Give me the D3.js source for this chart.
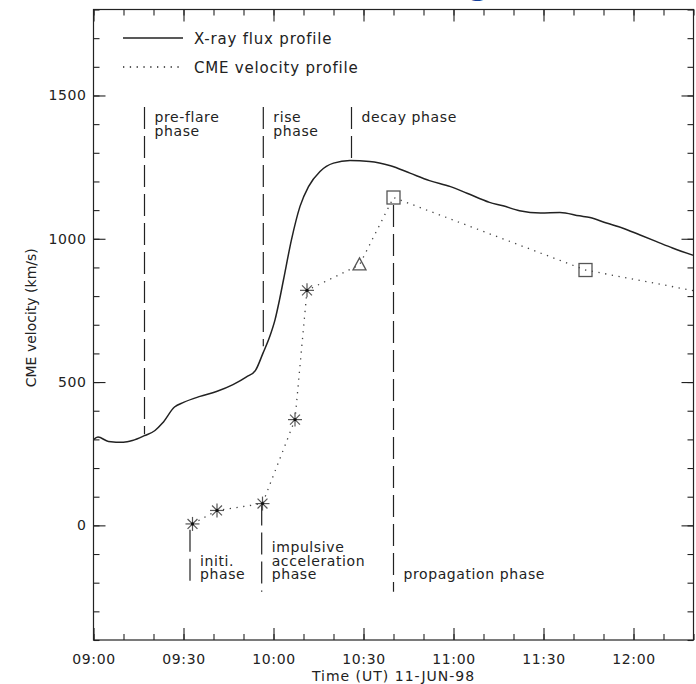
<!DOCTYPE html>
<html>
<head>
<meta charset="utf-8">
<script src="https://cdn.jsdelivr.net/npm/d3@7"></script>
<style>
  body { margin: 0; background: #fff; }
  svg text { font-family: "DejaVu Sans", sans-serif; fill: #222; }
</style>
</head>
<body>
<div id="chart"></div>
<script>
// X-ray flux profile (scaled onto velocity axis)
var fluxTimes = ['09:00:00','09:01:30','09:05:00','09:10:00','09:13:00','09:17:00','09:20:30','09:23:00',
  '09:27:00','09:30:00','09:35:30','09:41:00','09:46:30','09:51:00','09:54:00','09:56:30','09:58:45',
  '10:00:30','10:02:00','10:03:20','10:06:00','10:08:50','10:11:40','10:15:30','10:20:00','10:25:30',
  '10:32:00','10:39:00','10:45:30','10:52:00','10:59:00','11:04:30','11:12:00','11:16:30','11:22:00',
  '11:29:00','11:35:30','11:42:00','11:45:30','11:51:00','11:56:30','12:02:00','12:07:30','12:13:00','12:20:00'];
var fluxValues = [299, 308, 293, 290, 296, 313, 331, 357,
  413, 429, 450, 467, 491, 518, 541, 601, 659,
  717, 787, 857, 997, 1113, 1182, 1235, 1264, 1273,
  1270, 1255, 1229, 1203, 1182, 1159, 1127, 1115, 1098,
  1090, 1092, 1080, 1074, 1055, 1037, 1014, 991, 968, 942];

// CME velocity profile
var cmeTimes = ['09:33:00','09:41:10','09:56:20','10:07:10','10:11:10','10:28:40','10:40:00','11:44:00','12:20:00'];
var cmeValues = [5, 52, 76, 369, 820, 909, 1144, 891, 819];
var cmeSymbols = ['star','star','star','star','star','triangle','square','square','none'];

// phase boundaries
var topPhaseTimes = ['09:17:00','09:56:36','10:26:00'];
var topPhaseFrom = [1460, 1460, 1460];
var topPhaseTo = [318, 625, 1277];
var topPhaseLabels = [['pre-flare','phase'], ['rise','phase'], ['decay phase']];

var botPhaseTimes = ['09:32:10','09:56:04','10:40:00'];
var botPhaseFrom = [-15, 76, 1118];
var botPhaseTo = [-200, -232, -232];
var botPhaseLabels = [['initi.','phase'], ['impulsive','acceleration','phase'], ['propagation phase']];

var xTicks = ['09:00:00','09:30:00','10:00:00','10:30:00','11:00:00','11:30:00','12:00:00'];
var yTicks = [0, 500, 1000, 1500];
var xDomain = ['09:00:00','12:20:00'];
var yDomain = [-400, 1800];

var legendLabels = ['X-ray flux profile', 'CME velocity profile'];
var xTitle = 'Time (UT) 11-JUN-98';
var yTitle = 'CME velocity (km/s)';

var parseT = d3.timeParse('%H:%M:%S');
var W = 696, H = 684;
var margin = {top: 9.5, left: 93.5, right: 2.5, bottom: 44};
var pw = W - margin.left - margin.right;
var ph = H - margin.top - margin.bottom;

var svg = d3.select('#chart').append('svg')
  .attr('width', W).attr('height', H);

// cut-off slide title glyph at the top edge
svg.append('text')
  .attr('x', 468).attr('y', -5)
  .style('font-size', '30px').style('font-weight', 'bold')
  .style('fill', '#123f9c')
  .text('g');

var g = svg.append('g')
  .attr('transform', 'translate(' + margin.left + ',' + margin.top + ')');

var x = d3.scaleTime().domain(xDomain.map(parseT)).range([0, pw]);
var y = d3.scaleLinear().domain(yDomain).range([ph, 0]);

g.append('clipPath').attr('id', 'clip')
  .append('rect').attr('width', pw).attr('height', ph);

// axes: ticks pointing inward
function styleAxis(sel) {
  sel.select('.domain').remove();
  sel.selectAll('line').attr('stroke', '#222').attr('stroke-width', 1.1);
  sel.selectAll('text').style('font-size', '14px').style('letter-spacing', '0.6px');
}
var minorX = d3.timeMinute.every(10);
var majorX = xTicks.map(parseT);
var minorY = d3.range(yDomain[0], yDomain[1] + 1, 100);

g.append('g').attr('transform', 'translate(0,' + ph + ')')
  .call(d3.axisBottom(x).ticks(minorX).tickSize(-6).tickFormat(''))
  .call(styleAxis);
g.append('g').attr('transform', 'translate(0,' + ph + ')')
  .call(d3.axisBottom(x).tickValues(majorX).tickSize(-12).tickPadding(14).tickFormat(d3.timeFormat('%H:%M')))
  .call(styleAxis);
g.append('g')
  .call(d3.axisTop(x).ticks(minorX).tickSize(-6).tickFormat(''))
  .call(styleAxis);
g.append('g')
  .call(d3.axisTop(x).tickValues(majorX).tickSize(-12).tickFormat(''))
  .call(styleAxis);

g.append('g')
  .call(d3.axisLeft(y).tickValues(minorY).tickSize(-6).tickFormat(''))
  .call(styleAxis);
g.append('g')
  .call(d3.axisLeft(y).tickValues(yTicks).tickSize(-12).tickPadding(7).tickFormat(d3.format('d')))
  .call(styleAxis);
g.append('g').attr('transform', 'translate(' + pw + ',0)')
  .call(d3.axisRight(y).tickValues(minorY).tickSize(-6).tickFormat(''))
  .call(styleAxis);
g.append('g').attr('transform', 'translate(' + pw + ',0)')
  .call(d3.axisRight(y).tickValues(yTicks).tickSize(-12).tickFormat(''))
  .call(styleAxis);

g.append('rect')
  .attr('width', pw).attr('height', ph)
  .attr('fill', 'none').attr('stroke', '#222').attr('stroke-width', 1.2);

// axis titles
svg.append('text')
  .attr('x', margin.left + pw / 2).attr('y', 681)
  .attr('text-anchor', 'middle')
  .style('font-size', '14px').style('letter-spacing', '1px')
  .text(xTitle);
svg.append('text')
  .attr('transform', 'translate(36,' + (margin.top + ph / 2 - 7) + ') rotate(-90)')
  .attr('text-anchor', 'middle')
  .style('font-size', '14px')
  .text(yTitle);

// phase lines
function phaseLines(times, from, to, labels, baseY) {
  times.forEach(function (t, i) {
    var xp = x(parseT(t));
    g.append('line')
      .attr('x1', xp).attr('x2', xp)
      .attr('y1', y(from[i])).attr('y2', y(to[i]))
      .attr('stroke', '#222').attr('stroke-width', 1.2)
      .attr('stroke-dasharray', '22,7');
    var txt = g.append('text')
      .attr('x', xp + 10)
      .attr('y', baseY(labels[i].length))
      .style('font-size', '14px').style('letter-spacing', '0.6px');
    labels[i].forEach(function (s, k) {
      txt.append('tspan').attr('x', xp + 10).attr('dy', k === 0 ? 0 : 13.5).text(s);
    });
  });
}
phaseLines(topPhaseTimes, topPhaseFrom, topPhaseTo, topPhaseLabels, function () { return 122 - margin.top; });
phaseLines(botPhaseTimes, botPhaseFrom, botPhaseTo, botPhaseLabels, function (n) { return 579 - margin.top - (n - 1) * 13.5; });

// X-ray flux curve
var flux = fluxTimes.map(function (t, i) { return {t: parseT(t), v: fluxValues[i]}; });
g.append('path')
  .datum(flux)
  .attr('clip-path', 'url(#clip)')
  .attr('fill', 'none').attr('stroke', '#222').attr('stroke-width', 1.5)
  .attr('d', d3.line().x(function (d) { return x(d.t); }).y(function (d) { return y(d.v); })
    .curve(d3.curveMonotoneX));

// CME velocity curve
var cme = cmeTimes.map(function (t, i) { return {t: parseT(t), v: cmeValues[i], s: cmeSymbols[i]}; });
g.append('path')
  .datum(cme)
  .attr('clip-path', 'url(#clip)')
  .attr('fill', 'none').attr('stroke', '#444').attr('stroke-width', 1.3)
  .attr('stroke-dasharray', '1.3,5.5')
  .attr('d', d3.line().x(function (d) { return x(d.t); }).y(function (d) { return y(d.v); }));

var marks = g.selectAll('.mark')
  .data(cme.filter(function (d) { return d.s !== 'none'; }))
  .enter().append('g')
  .attr('class', 'mark')
  .attr('transform', function (d) { return 'translate(' + x(d.t) + ',' + y(d.v) + ')'; });

marks.filter(function (d) { return d.s === 'star'; })
  .selectAll('line')
  .data([0, 45, 90, 135])
  .enter().append('line')
  .attr('x1', 0).attr('y1', -7).attr('x2', 0).attr('y2', 7)
  .attr('transform', function (a) { return 'rotate(' + a + ')'; })
  .attr('stroke', '#555').attr('stroke-width', 1.2);
marks.filter(function (d) { return d.s === 'star'; })
  .append('circle').attr('r', 1.6).attr('fill', '#111');

marks.filter(function (d) { return d.s === 'triangle'; })
  .append('path')
  .attr('d', 'M0,-7L6.5,5L-6.5,5Z')
  .attr('fill', 'none').attr('stroke', '#555').attr('stroke-width', 1.3);

marks.filter(function (d) { return d.s === 'square'; })
  .append('rect')
  .attr('x', -6.5).attr('y', -6.5).attr('width', 13).attr('height', 13)
  .attr('fill', 'none').attr('stroke', '#555').attr('stroke-width', 1.3);

// legend
var legend = svg.append('g');
var legendStyles = [null, '1.3,5.5'];
legendLabels.forEach(function (s, i) {
  var ly = 38 + i * 29;
  legend.append('line')
    .attr('x1', 123).attr('x2', 183).attr('y1', ly).attr('y2', ly)
    .attr('stroke', '#222').attr('stroke-width', i === 0 ? 1.4 : 1.3)
    .attr('stroke-dasharray', legendStyles[i]);
  legend.append('text')
    .attr('x', 194).attr('y', ly + 5.5)
    .style('font-size', '15px').style('letter-spacing', '0.8px')
    .text(s);
});
</script>
</body>
</html>
